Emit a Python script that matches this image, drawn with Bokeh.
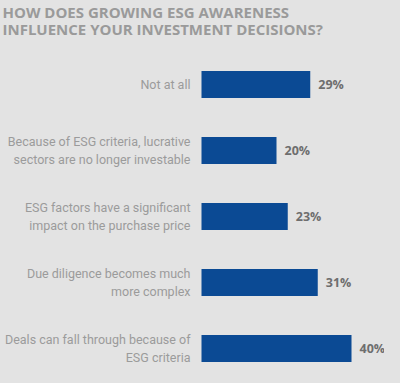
from bokeh.plotting import figure
from bokeh.models import Range1d, Label, ColumnDataSource
from bokeh.embed import file_html
from bokeh.resources import INLINE
from bokeh.core.properties import value

categories = [
    "Not at all",
    "Because of ESG criteria, lucrative\nsectors are no longer investable",
    "ESG factors have a significant\nimpact on the purchase price",
    "Due diligence becomes much\nmore complex",
    "Deals can fall through because of\nESG criteria",
]
shares = [29, 20, 23, 31, 40]
value_labels = ["29%", "20%", "23%", "31%", "40%"]
title_lines = ["HOW DOES GROWING ESG AWARENESS", "INFLUENCE YOUR INVESTMENT DECISIONS?"]

BG = "#e3e3e3"
W, H = 384, 367
zero_px, px_per = 201, 3.75
first_c, step = 84, 66

p = figure(width=W, height=H, output_backend="svg", toolbar_location=None,
           x_range=Range1d(-zero_px / px_per, (W - zero_px) / px_per),
           y_range=Range1d((H - first_c) / step, -first_c / step),
           min_border=0, background_fill_color=BG, border_fill_color=BG,
           outline_line_color=None)
p.axis.visible = False
p.grid.visible = False

idx = list(range(len(categories)))
src = ColumnDataSource(dict(y=idx, v=shares, cat=categories, lab=value_labels,
                            lx=[s + 8 / px_per for s in shares]))
p.hbar(y="y", left=0, right="v", height=27 / step, source=src,
       fill_color="#0b4a94", line_color=None)
p.text(x=-11 / px_per, y="y", text="cat", source=src, text_align="right",
       text_baseline="middle", text_font=value("Roboto"), text_font_size="12.5px",
       text_color="#9b9b9b", text_line_height=1.15)
p.text(x="lx", y="y", text="lab", source=src, text_align="left",
       text_baseline="middle", text_font=value("Open Sans"), text_font_size="12.5px",
       text_font_style="bold", text_color="#6e6e6e")

for i, t in enumerate(title_lines):
    p.add_layout(Label(x=2, y=H - 1 - i * 17, x_units="screen", y_units="screen",
                       text=t, text_baseline="top", text_font="Open Sans",
                       text_font_size="15px", text_font_style="bold",
                       text_color="#9a9a9a"))

html = file_html(p, INLINE)
html = html.replace("</head>", "<style>body{background:%s;}</style></head>" % BG, 1)
open("out.html", "w").write(html)
